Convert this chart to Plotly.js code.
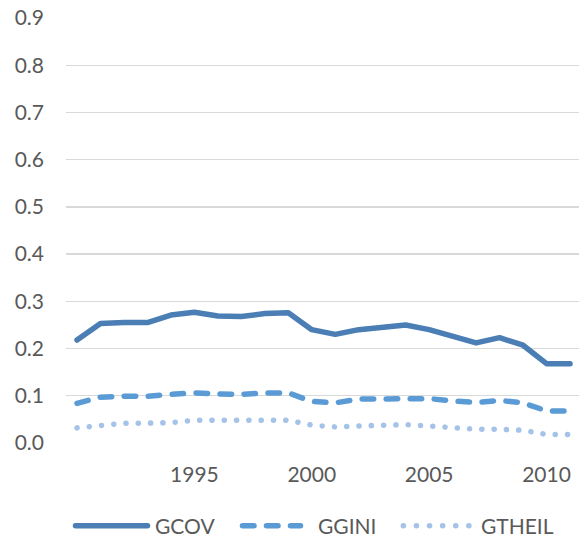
<!DOCTYPE html>
<html>
<head>
<meta charset="utf-8">
<script src="https://cdn.plot.ly/plotly-3.0.1.min.js"></script>
<style>
html,body{margin:0;padding:0;background:#fff;}
#chart{width:579px;height:542px;}
path.js-line{stroke-linecap:round;stroke-linejoin:round;}
.shapelayer path{stroke-linecap:round;}
</style>
</head>
<body>
<div id="chart"></div>
<script>
const years = [1990,1991,1992,1993,1994,1995,1996,1997,1998,1999,2000,2001,2002,2003,2004,2005,2006,2007,2008,2009,2010,2011];
const gcov  = [0.218,0.253,0.255,0.255,0.271,0.277,0.269,0.268,0.274,0.276,0.240,0.230,0.240,0.245,0.250,0.240,0.227,0.212,0.223,0.207,0.168,0.168];
const ggini = [0.084,0.097,0.099,0.099,0.103,0.106,0.104,0.103,0.106,0.106,0.088,0.085,0.093,0.094,0.095,0.094,0.089,0.086,0.090,0.085,0.068,0.068];
const gtheil= [0.032,0.038,0.042,0.042,0.043,0.048,0.048,0.047,0.047,0.048,0.038,0.034,0.036,0.037,0.039,0.036,0.032,0.029,0.029,0.027,0.018,0.018];
const seriesNames = ['GCOV','GGINI','GTHEIL'];
const tickYears = [1995,2000,2005,2010];

const colors = ['#4a7eb4','#5b9bd5','#a5c2e8'];
const dashes = ['solid','11.5px,12.5px','0.1px,12.2px'];

const W = 579, H = 542;
const M = {l:66, r:0, t:17, b:99};
const pw = W - M.l - M.r, ph = H - M.t - M.b;
const step = (570 - 77) / (years.length - 1);
const x0 = years[0] - (77 - M.l) / step;
const x1 = x0 + pw / step;
const px = v => (v - M.l) / pw;
const py = v => (H - M.b - v) / ph;

const vals = [gcov, ggini, gtheil];
const traces = vals.map((v,i) => ({
  x: years, y: v, type:'scatter', mode:'lines', name: seriesNames[i],
  line:{color:colors[i], width:5.5, dash:dashes[i]},
  showlegend:false, hoverinfo:'skip'
}));

const legY = 525.7;
const legend = [
  {x0:75.5, x1:147.5, dash:'solid', text:153},
  {x0:242.5, x1:300.5, dash:'11.5px,12.5px', text:316},
  {x0:403.3, x1:469, dash:'0.1px,13px', text:479}
];
const shapes = legend.map((l,i) => ({
  type:'line', xref:'paper', yref:'paper',
  x0:px(l.x0), x1:px(l.x1), y0:py(legY), y1:py(legY),
  line:{color:colors[i], width:5.5, dash:l.dash}
}));
const annotations = legend.map((l,i) => ({
  xref:'paper', yref:'paper', x:px(l.text), y:py(legY),
  xanchor:'left', yanchor:'middle', showarrow:false,
  text: seriesNames[i], font:{family:'Lato, sans-serif', size:21, color:'#595959'}
}));

const layout = {
  width:W, height:H, margin:M,
  paper_bgcolor:'#fff', plot_bgcolor:'#fff',
  font:{family:'Lato, sans-serif', size:21, color:'#595959'},
  xaxis:{range:[x0,x1], tickvals:tickYears, ticktext:tickYears.map(String),
         showgrid:false, zeroline:false, showline:false, ticks:'', ticklabelstandoff:17,
         fixedrange:true},
  yaxis:{range:[0,0.902], tickvals:[0,0.1,0.2,0.3,0.4,0.5,0.6,0.7,0.8,0.9], tickformat:'.1f',
         showgrid:true, gridcolor:'#d9d9d9', gridwidth:1.3, zeroline:false, showline:false,
         ticks:'', ticklabelstandoff:21, fixedrange:true},
  shapes, annotations, showlegend:false
};
Plotly.newPlot('chart', traces, layout, {staticPlot:true, displayModeBar:false});
</script>
</body>
</html>
